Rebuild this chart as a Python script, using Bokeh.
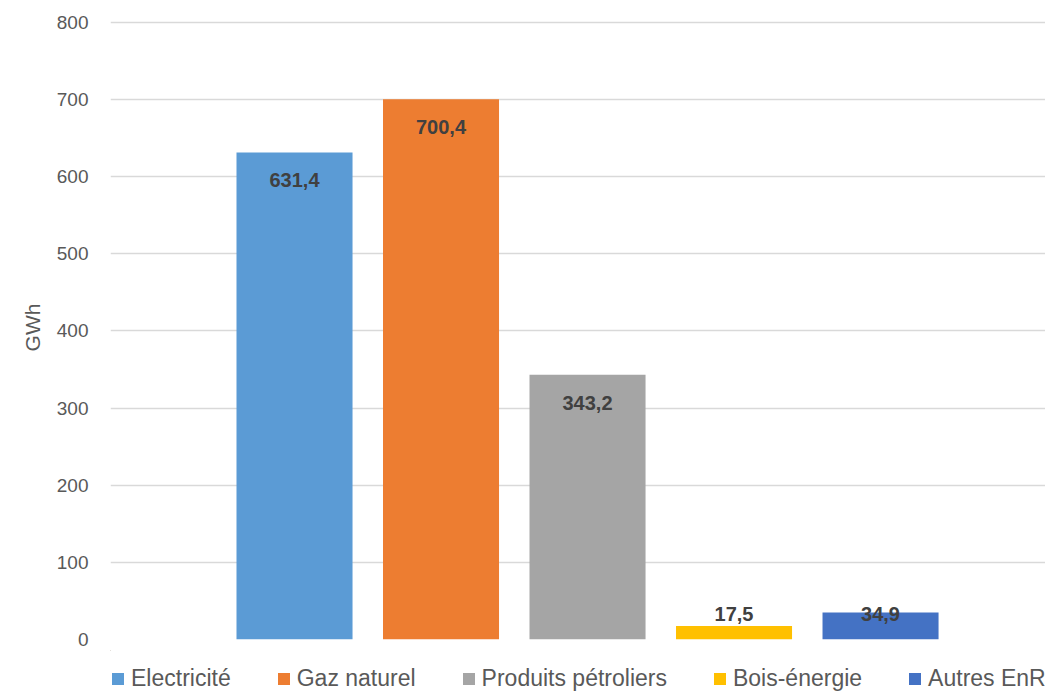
from bokeh.plotting import figure
from bokeh.layouts import column
from bokeh.models import Range1d, Legend, LegendItem, ColumnDataSource
from bokeh.core.properties import value
from bokeh.embed import file_html
from bokeh.resources import INLINE

categories = ["Electricité", "Gaz naturel", "Produits pétroliers", "Bois-énergie", "Autres EnR"]
values = [631.4, 700.4, 343.2, 17.5, 34.9]
labels = ["631,4", "700,4", "343,2", "17,5", "34,9"]
colors = ["#5B9BD5", "#ED7D31", "#A5A5A5", "#FFC000", "#4472C4"]
y_ticks = [0, 100, 200, 300, 400, 500, 600, 700, 800]

FONT = "Liberation Sans"

W = 1045
p = figure(width=W, height=650, output_backend="svg", toolbar_location=None,
           x_range=Range1d(-1.256, 5.126), y_range=Range1d(0, 809),
           min_border_left=110, min_border_right=0, min_border_top=15, min_border_bottom=11)
p.outline_line_color = None
p.xaxis.visible = False
p.xgrid.grid_line_color = None
p.ygrid.grid_line_color = "#D9D9D9"
p.ygrid.grid_line_width = 1.5
p.yaxis.ticker = y_ticks
p.yaxis.axis_line_color = None
p.yaxis.major_tick_line_color = None
p.yaxis.minor_tick_line_color = None
p.yaxis.major_label_text_font = FONT
p.yaxis.major_label_text_font_size = "19px"
p.yaxis.major_label_text_color = "#595959"
p.yaxis.major_label_standoff = 16
p.yaxis.axis_label = "GWh"
p.yaxis.axis_label_text_font = FONT
p.yaxis.axis_label_text_font_size = "21px"
p.yaxis.axis_label_text_font_style = "normal"
p.yaxis.axis_label_text_color = "#595959"
p.yaxis.axis_label_standoff = 10

xs = list(range(len(categories)))
px_per_unit = 624 / 809.0
label_y = [max(v - 28 / px_per_unit, 26 / px_per_unit) for v in values]
src = ColumnDataSource(dict(x=xs, top=values, color=colors, cat=categories, lab=labels, ly=label_y))

p.vbar(x="x", top="top", width=0.792, color="color", line_color=None, source=src)
p.text(x="x", y="ly", text="lab", source=src, text_align="center", text_baseline="middle",
       text_font=value(FONT), text_font_size="20px", text_font_style="bold", text_color="#404040")

# legend strip (its bars fall far outside its own ranges, only the legend swatches show)
p2 = figure(width=W, height=42, output_backend="svg", toolbar_location=None,
            x_range=Range1d(100, 101), y_range=Range1d(-2000, -1000),
            min_border_left=0, min_border_right=0, min_border_top=0, min_border_bottom=0)
p2.outline_line_color = None
p2.axis.visible = False
p2.grid.visible = False
items = []
for i in range(len(categories)):
    r = p2.vbar(x=[xs[i]], top=[values[i]], width=0.792, color=colors[i], line_color=None)
    items.append(LegendItem(label=categories[i], renderers=[r]))
legend = Legend(items=items, orientation="horizontal", location=(0, 0),
                padding=0, margin=0, spacing=45, glyph_width=15, glyph_height=15,
                label_standoff=6, border_line_color=None, background_fill_alpha=0,
                label_text_font=FONT, label_text_font_size="23px", label_text_color="#595959")
p2.add_layout(legend, "center")

layout = column(p, p2, spacing=0)
open("out.html", "w").write(file_html(layout, INLINE))
